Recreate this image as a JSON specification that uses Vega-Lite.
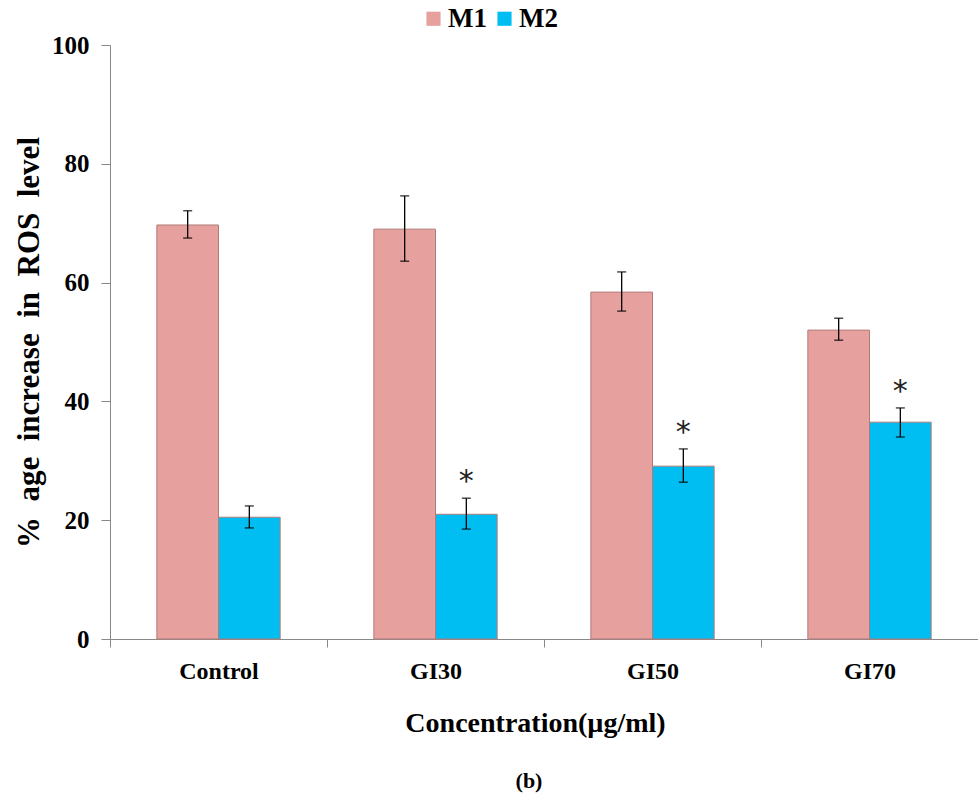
{
  "$schema": "https://vega.github.io/schema/vega-lite/v6.json",
  "autosize": "none",
  "width": 868,
  "height": 594,
  "padding": {"left": 110, "top": 45, "right": 0, "bottom": 161},
  "background": "white",
  "config": {
    "font": "Liberation Serif",
    "view": {"stroke": null}
  },
  "title": {
    "text": "(b)",
    "orient": "bottom",
    "anchor": "middle",
    "offset": 34,
    "dx": -15,
    "font": "Liberation Serif",
    "fontSize": 22,
    "fontWeight": "bold",
    "color": "black"
  },
  "data": {
    "values": [
      {"group": "Control", "series": "M1", "value": 69.7, "lo": 67.5, "hi": 72.1, "star": ""},
      {"group": "Control", "series": "M2", "value": 20.5, "lo": 18.7, "hi": 22.4, "star": ""},
      {"group": "GI30", "series": "M1", "value": 69.0, "lo": 63.6, "hi": 74.6, "star": ""},
      {"group": "GI30", "series": "M2", "value": 21.0, "lo": 18.5, "hi": 23.7, "star": "*"},
      {"group": "GI50", "series": "M1", "value": 58.4, "lo": 55.2, "hi": 61.8, "star": ""},
      {"group": "GI50", "series": "M2", "value": 29.1, "lo": 26.4, "hi": 32.0, "star": "*"},
      {"group": "GI70", "series": "M1", "value": 52.0, "lo": 50.3, "hi": 54.0, "star": ""},
      {"group": "GI70", "series": "M2", "value": 36.5, "lo": 34.0, "hi": 38.9, "star": "*"}
    ]
  },
  "encoding": {
    "x": {
      "field": "group",
      "type": "nominal",
      "sort": ["Control", "GI30", "GI50", "GI70"],
      "scale": {"paddingInner": 0, "paddingOuter": 0},
      "axis": {
        "title": "Concentration(µg/ml)",
        "titleFont": "Liberation Serif",
        "titleFontSize": 28,
        "titleFontWeight": "bold",
        "titleColor": "black",
        "titlePadding": 26,
        "titleX": 425,
        "labelFont": "Liberation Serif",
        "labelFontSize": 24,
        "labelFontWeight": "bold",
        "labelColor": "black",
        "labelAngle": 0,
        "labelPadding": 12,
        "domainColor": "#888888",
        "tickColor": "#888888",
        "tickBand": "extent",
        "tickSize": 8
      }
    },
    "xOffset": {"field": "series", "type": "nominal", "sort": ["M1", "M2"], "scale": {"paddingInner": 0, "paddingOuter": 0.76}}
  },
  "layer": [
    {
      "mark": {"type": "bar", "stroke": "#b07c7a", "strokeWidth": 1},
      "encoding": {
        "y": {
          "field": "value",
          "type": "quantitative",
          "scale": {"domain": [0, 100], "nice": false},
          "axis": {
            "title": "%\u00a0\u00a0age\u00a0\u00a0increase\u00a0\u00a0in\u00a0\u00a0ROS\u00a0\u00a0level",
            "titleFont": "Liberation Serif",
            "titleFontSize": 31,
            "titleFontWeight": "bold",
            "titleColor": "black",
            "titlePadding": 6,
            "labelFont": "Liberation Serif",
            "labelFontSize": 25,
            "labelFontWeight": "bold",
            "labelColor": "black",
            "labelPadding": 12,
            "values": [0, 20, 40, 60, 80, 100],
            "grid": false,
            "domainColor": "#888888",
            "tickColor": "#888888",
            "tickSize": 9
          }
        },
        "color": {
          "field": "series",
          "type": "nominal",
          "scale": {"domain": ["M1", "M2"], "range": ["#E6A09E", "#00BEF2"]},
          "legend": {
            "title": null,
            "orient": "none",
            "legendX": 310,
            "legendY": -40,
            "direction": "horizontal",
            "symbolType": "square",
            "symbolSize": 200,
            "symbolStrokeWidth": 0,
            "labelFont": "Liberation Serif",
            "labelFontSize": 27,
            "labelFontWeight": "bold",
            "labelColor": "black",
            "columnPadding": 4,
            "labelOffset": 1
          }
        }
      }
    },
    {
      "mark": {"type": "rule", "color": "black", "strokeWidth": 1.3},
      "encoding": {
        "y": {"field": "lo", "type": "quantitative"},
        "y2": {"field": "hi"}
      }
    },
    {
      "mark": {"type": "tick", "color": "black", "size": 9, "thickness": 1.5, "orient": "horizontal"},
      "encoding": {"y": {"field": "lo", "type": "quantitative"}}
    },
    {
      "mark": {"type": "tick", "color": "black", "size": 9, "thickness": 1.5, "orient": "horizontal"},
      "encoding": {"y": {"field": "hi", "type": "quantitative"}}
    },
    {
      "mark": {"type": "text", "dy": -16, "fontSize": 30, "font": "DejaVu Sans", "color": "#222222", "baseline": "middle"},
      "encoding": {
        "y": {"field": "hi", "type": "quantitative"},
        "text": {"field": "star"}
      }
    }
  ]
}
